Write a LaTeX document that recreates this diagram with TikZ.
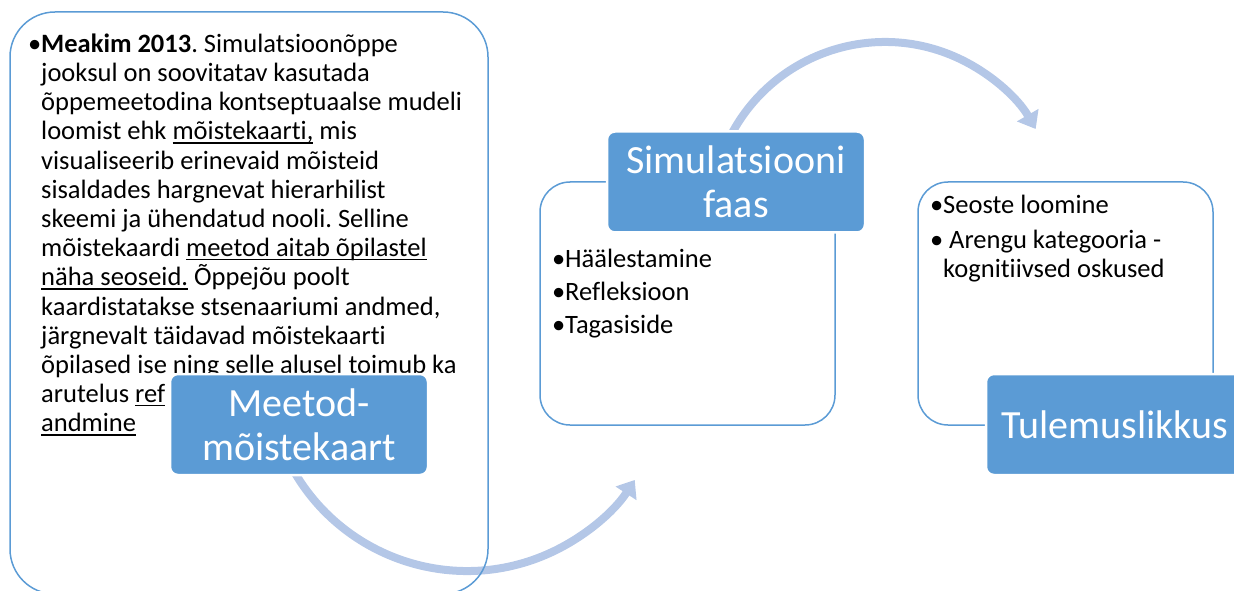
\documentclass[tikz,border=0pt]{standalone}
\usepackage{fontspec}
\setmainfont{Carlito}[Ligatures=NoCommon]
\usetikzlibrary{arrows.meta}

\definecolor{accent}{HTML}{5B9BD5}
\definecolor{flowblue}{HTML}{B4C7E7}
\newcommand{\uln}[1]{\setbox0\hbox{#1}\rlap{\rule[-3.8pt]{\wd0}{1.2pt}}\box0\relax}

\begin{document}
\begin{tikzpicture}[x=1pt,y=1pt,
		panel/.style={draw=accent,line width=1.5pt,rounded corners=30pt,inner sep=0pt},
		title/.style={fill=accent,draw=white,line width=2.5pt,rounded corners=8pt,text=white,
			font=\fontsize{40}{44}\selectfont,align=center,minimum width=258pt,minimum height=101pt,inner sep=0pt},
		bullets/.style={anchor=north west,inner sep=0pt,align=left},
		flow/.style={draw=flowblue,line width=8pt,-{Triangle[length=16pt,width=24pt]}}]
		\useasboundingbox (0,0) rectangle (1234,590);
		\clip (0,0) rectangle (1234,590);

		% Set up centres of the bent arrows
		\coordinate (bendA) at (467,219);
		\coordinate (bendB) at (885,374);

		\draw[flow] ([shift={(205:200)}]bendA) arc[start angle=205,end angle=327,radius=200];
		\draw[flow] ([shift={(155:174)}]bendB) arc[start angle=155,end angle=30,radius=174];

		% Outline panels
		\node[panel,rounded corners=45pt,minimum width=478pt,minimum height=582pt] (info) at (249,287) {};
		\node[panel,minimum width=295pt,minimum height=243pt] (phase) at (687.5,286.5) {};
		\node[panel,minimum width=295pt,minimum height=243pt] (result) at (1065.5,286.5) {};

		\node[bullets,font=\fontsize{26.5}{29.2}\selectfont\frenchspacing] (infotext) at (41,558) {\rule{0pt}{20pt}\llap{•}\textbf{Meakim 2013}. Simulatsioonõppe\\
			jooksul on soovitatav kasutada\\
			õppemeetodina kontseptuaalse mudeli\\
			loomist ehk \uln{mõistekaarti,} mis\\
			visualiseerib erinevaid mõisteid\\
			sisaldades hargnevat hierarhilist\\
			skeemi ja ühendatud nooli. Selline\\
			mõistekaardi \uln{meetod aitab õpilastel}\\
			\uln{näha seoseid.} Õppejõu poolt\\
			kaardistatakse stsenaariumi andmed,\\
			järgnevalt täidavad mõistekaarti\\
			õpilased ise ning selle alusel toimub ka\\
			arutelus \uln{ref}\\
			\uln{andmine}};
		\node[bullets,font=\fontsize{26.5}{33}\selectfont] (phasetext) at (565,343) {\rule{0pt}{20pt}\llap{•}Häälestamine\\
			\llap{•}Refleksioon\\
			\llap{•}Tagasiside};
		\node[bullets,font=\fontsize{26.5}{29.2}\selectfont] (resulttext) at (943,397) {\rule{0pt}{20pt}\llap{•}Seoste loomine\\[5.8pt]
			\llap{•}\ Arengu kategooria -\\
			kognitiivsed oskused};

		% Title boxes on top
		\node[title] (meetod) at (299,165.5) {Meetod-\\mõistekaart};
		\node[title] (simul) at (736,408) {Simulatsiooni\\faas};
		\node[title] (tulem) at (1115,165.5) {Tulemuslikkus};
	\end{tikzpicture}
\end{document}
